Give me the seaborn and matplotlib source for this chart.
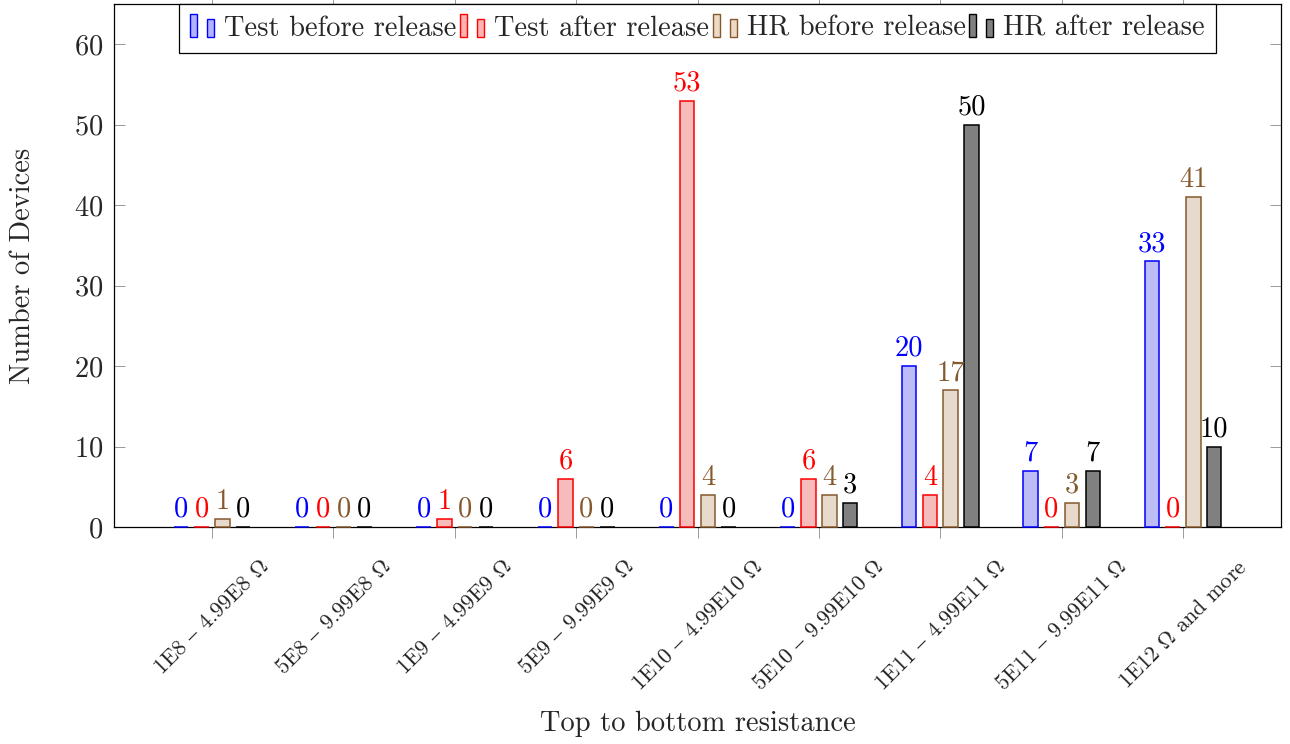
import matplotlib
matplotlib.use("Agg")
import numpy as np
import pandas as pd
import seaborn as sns
import matplotlib.pyplot as plt
from matplotlib.patches import Rectangle
from matplotlib.legend_handler import HandlerBase

# ---------------- data ----------------
categories = [
    "1E8 $\\mathrm{–}$ 4.99E8 $\\Omega$",
    "5E8 $\\mathrm{–}$ 9.99E8 $\\Omega$",
    "1E9 $\\mathrm{–}$ 4.99E9 $\\Omega$",
    "5E9 $\\mathrm{–}$ 9.99E9 $\\Omega$",
    "1E10 $\\mathrm{–}$ 4.99E10 $\\Omega$",
    "5E10 $\\mathrm{–}$ 9.99E10 $\\Omega$",
    "1E11 $\\mathrm{–}$ 4.99E11 $\\Omega$",
    "5E11 $\\mathrm{–}$ 9.99E11 $\\Omega$",
    "1E12 $\\Omega$ and more",
]
series_names = ["Test before release", "Test after release",
                "HR before release", "HR after release"]
test_before = [0, 0, 0, 0, 0, 0, 20, 7, 33]
test_after = [0, 0, 1, 6, 53, 6, 4, 0, 0]
hr_before = [1, 0, 0, 0, 4, 4, 17, 3, 41]
hr_after = [0, 0, 0, 0, 0, 3, 50, 7, 10]
y_ticks = [0, 10, 20, 30, 40, 50, 60]

fill_colors = ["#b3b3ff", "#ffb3b3", "#ecd9c6", "#808080"]
edge_colors = ["#0000ff", "#ff0000", "#86592d", "#000000"]
label_colors = ["#0000ff", "#ff0000", "#86592d", "#000000"]

all_values = [test_before, test_after, hr_before, hr_after]
df = pd.DataFrame({
    "range": np.tile(categories, len(series_names)),
    "series": np.repeat(series_names, len(categories)),
    "count": np.concatenate(all_values),
})

# ---------------- style ----------------
sns.set_style("white")
plt.rcParams["font.family"] = ["cmr10", "DejaVu Serif"]
plt.rcParams["mathtext.fontset"] = "cm"
plt.rcParams["axes.formatter.use_mathtext"] = True

FS = 20.5

fig = plt.figure(figsize=(12.9, 7.44), dpi=100)
ax = fig.add_axes([114 / 1290, 1 - 527 / 744, 1167 / 1290, 523 / 744])

sns.barplot(data=df, x="range", y="count", hue="series",
            palette=fill_colors, width=0.684, gap=0.30,
            linewidth=1.1, legend=False, ax=ax, errorbar=None)

for cont, ec, lc, vals in zip(ax.containers, edge_colors, label_colors, all_values):
    for bar in cont:
        bar.set_edgecolor(ec)
        bar.set_zorder(3)
        bar.set_clip_on(False)
    ax.bar_label(cont, labels=[str(v) for v in vals], padding=3.0,
                 color=lc, fontsize=FS, zorder=4)

ax.set_xlim(-0.807, 8.807)
ax.set_ylim(0, 65)
ax.set_yticks(y_ticks)

for sp in ax.spines.values():
    sp.set_visible(True)
    sp.set_color("black")
    sp.set_linewidth(0.9)

ax.tick_params(axis="y", which="both", direction="in", left=True, right=True,
               length=8, width=0.7, color="#999999", labelsize=FS, pad=8)
ax.tick_params(axis="x", which="both", direction="out", bottom=True, top=True,
               length=8, width=0.7, color="#999999", labelsize=16, pad=13)
for lab in ax.get_xticklabels():
    lab.set_rotation(45)
    lab.set_ha("center")
    lab.set_va("top")

ax.set_xlabel("Top to bottom resistance", fontsize=FS, va="top")
ax.set_ylabel("Number of Devices", fontsize=FS)
ax.xaxis.set_label_coords(0.5, -0.352)
ax.yaxis.set_label_coords(-0.0665, 0.5)


# ---------------- legend ----------------
class TwoBarHandler(HandlerBase):
    def create_artists(self, legend, orig_handle, xdescent, ydescent,
                       width, height, fontsize, trans):
        fc = orig_handle.get_facecolor()
        ec = orig_handle.get_edgecolor()
        px = 0.72  # points per pixel
        w = 7 * px
        x0 = -xdescent
        y0 = -ydescent - 1 * px
        r1 = Rectangle((x0, y0), w, 23 * px, facecolor=fc, edgecolor=ec,
                       linewidth=1.0, transform=trans)
        r2 = Rectangle((x0 + 17 * px, y0), w, 18 * px, facecolor=fc,
                       edgecolor=ec, linewidth=1.0, transform=trans)
        return [r1, r2]


handles = [Rectangle((0, 0), 1, 1, facecolor=fc, edgecolor=ec)
           for fc, ec in zip(fill_colors, edge_colors)]
leg = ax.legend(handles, series_names, loc="upper center",
                bbox_to_anchor=(0.5, 1.0), ncol=4, fontsize=FS,
                frameon=True, fancybox=False, framealpha=1,
                edgecolor="black", borderaxespad=0, handlelength=0.9,
                handletextpad=0.3, columnspacing=0.12, borderpad=0.4,
                handler_map={Rectangle: TwoBarHandler()})
leg.get_frame().set_linewidth(0.9)

fig.savefig("out.png", dpi=100)
